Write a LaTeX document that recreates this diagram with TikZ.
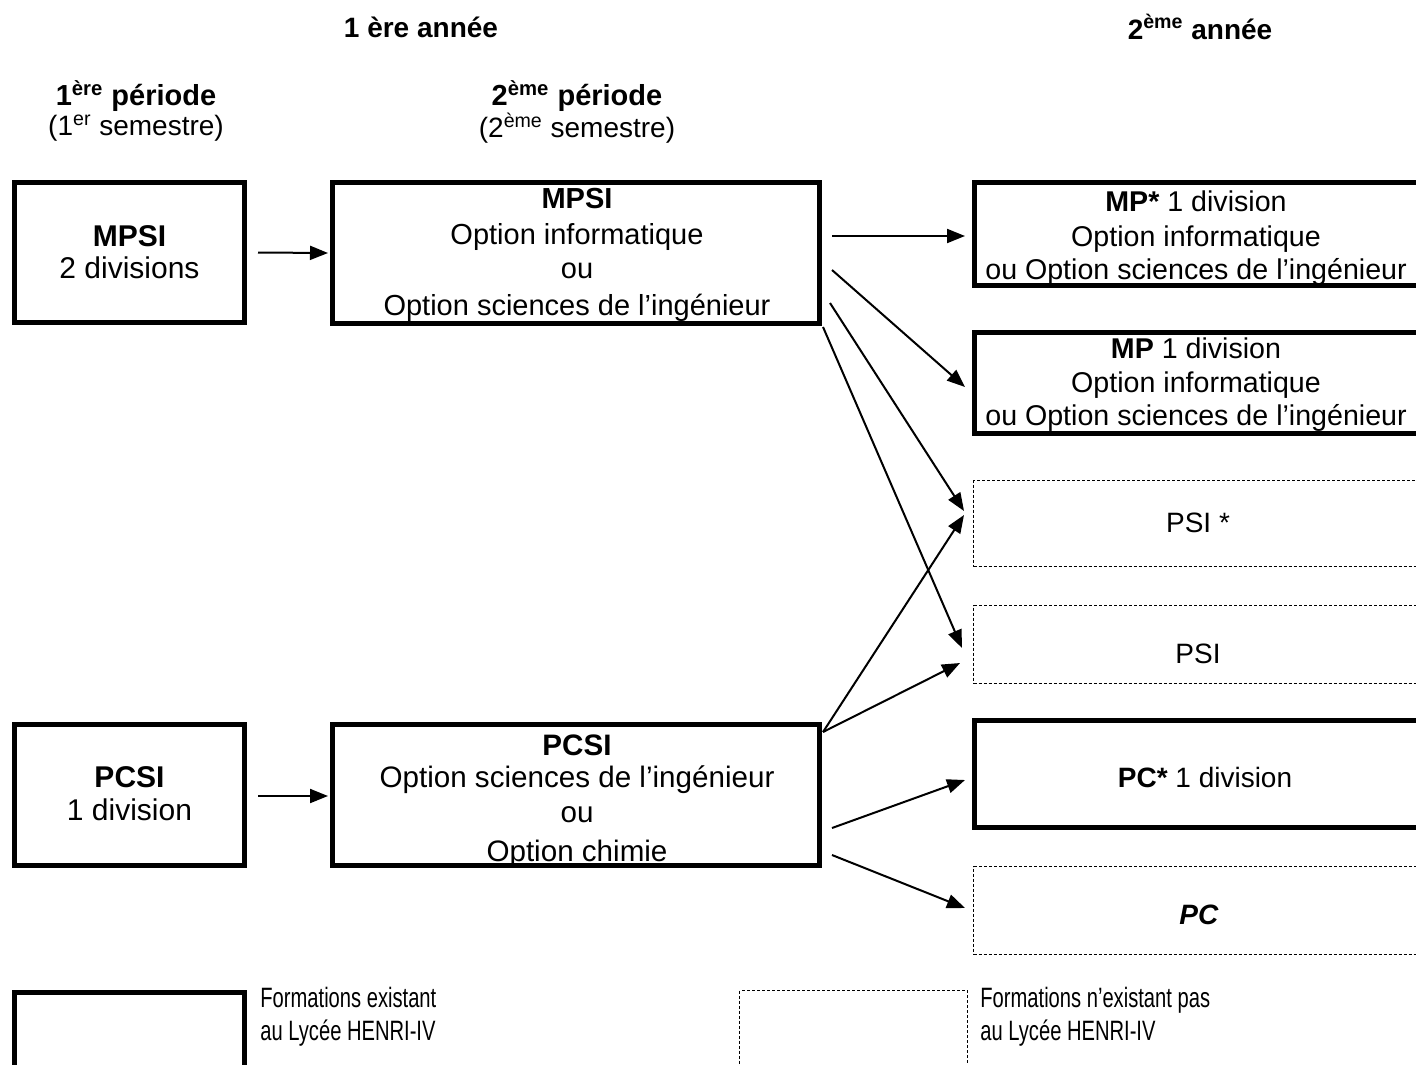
\documentclass[tikz,border=0pt]{standalone}
\usepackage{fontspec}
\usepackage{graphicx}
\setmainfont{Liberation Sans}
\usetikzlibrary{arrows.meta,calc}
\newcommand{\cnd}[1]{\scalebox{0.72}[1]{#1}}
\begin{document}
\begin{tikzpicture}[x=0.5pt,y=-0.5pt,
  thickbox/.style={draw, line width=2.5pt, inner sep=0pt, rectangle},
  dashbox/.style={draw, line width=0.5pt, dash pattern=on 1.5pt off 1pt, inner sep=0pt, rectangle},
  txt/.style={inner sep=0pt, align=center, font=\fontsize{14}{17}\selectfont},
  arr/.style={line width=1pt, -{Triangle[length=9pt,width=7pt]}}]
\useasboundingbox (0,0) rectangle (1416,1064);
\clip (0,0) rectangle (1416,1064);

% headers
\node[txt] (an1) at (421,27) {\textbf{1 ère année}};
\node[txt] (an2) at (1200,27) {\textbf{2\textsuperscript{ème} année}};
\node[txt, font=\fontsize{14.5}{17}\selectfont] (per1) at (136,96) {\textbf{1\textsuperscript{ère} période}};
\node[txt] (sem1) at (136,128) {(1\textsuperscript{er} semestre)};
\node[txt, font=\fontsize{14.5}{17}\selectfont] (per2) at (577,96) {\textbf{2\textsuperscript{ème} période}};
\node[txt] (sem2) at (577,128) {(2\textsuperscript{ème} semestre)};

% first-year boxes
\node[thickbox, minimum width=115pt, minimum height=70pt] (mpsiA) at (129.5,252.5) {};
\node[txt, font=\fontsize{15}{16}\selectfont] (mpsiAt) at (129.5,252) {\textbf{MPSI}\\2 divisions};
\node[thickbox, minimum width=243.5pt, minimum height=70.5pt] (mpsiB) at (576,253) {};
\node[txt, font=\fontsize{14.5}{17}\selectfont] (mpsiBt) at (577,255)
  {\textbf{MPSI}\\[1pt]Option informatique\\ou\\[1.5pt]Option sciences de l’ingénieur};

\node[thickbox, minimum width=115pt, minimum height=70.5pt] (pcsiA) at (129.5,795) {};
\node[txt, font=\fontsize{15}{16.5}\selectfont] (pcsiAt) at (129.5,793.5) {\textbf{PCSI}\\1 division};
\node[thickbox, minimum width=243.5pt, minimum height=70.5pt] (pcsiB) at (576,795) {};
\node[txt, font=\fontsize{14.8}{16}\selectfont] (pcsiBt) at (577,801)
  {\textbf{PCSI}\\Option sciences de l’ingénieur\\[1.5pt]ou\\[3.5pt]Option chimie};

% second-year boxes
\node[thickbox, minimum width=225.5pt, minimum height=51.5pt] (mpA) at (1200,234) {};
\node[txt, font=\fontsize{14.3}{16.5}\selectfont] (mpAt) at (1196,238)
  {\textbf{MP*} 1 division\\[1pt]Option informatique\\ou Option sciences de l’ingénieur};
\node[thickbox, minimum width=225.5pt, minimum height=50.5pt] (mpB) at (1200,383) {};
\node[txt, font=\fontsize{14.3}{16.5}\selectfont] (mpBt) at (1196,385)
  {\textbf{MP} 1 division\\[0.5pt]Option informatique\\ou Option sciences de l’ingénieur};
\node[dashbox, minimum width=227.5pt, minimum height=43pt] (psiA) at (1201,523.5) {};
\node[txt] (psiAt) at (1198,523) {PSI *};
\node[dashbox, minimum width=227.5pt, minimum height=39pt] (psiB) at (1201,644.5) {};
\node[txt] (psiBt) at (1198,654) {PSI};
\node[thickbox, minimum width=225.5pt, minimum height=53.5pt] (pcA) at (1200,774) {};
\node[txt] (pcAt) at (1205,777) {\textbf{PC*} 1 division};
\node[dashbox, minimum width=227.5pt, minimum height=44pt] (pcB) at (1201,910.5) {};
\node[txt] (pcBt) at (1199,915) {\textbf{\itshape PC}};

% legend
\node[thickbox, minimum width=115pt, minimum height=52.5pt] (legA) at (129.5,1045) {};
\node[txt, anchor=west, align=left, font=\fontsize{14}{16.5}\selectfont] (legAt) at (260,1017)
  {\cnd{Formations existant}\\\cnd{au Lycée HENRI-IV}};
\node[dashbox, minimum width=114pt, minimum height=54.5pt] (legB) at (853.5,1045) {};
\node[txt, anchor=west, align=left, font=\fontsize{14}{16.5}\selectfont] (legBt) at (980,1017)
  {\cnd{Formations n’existant pas}\\\cnd{au Lycée HENRI-IV}};

% connectors
\draw[arr] ($(mpsiA.east)+(11,0)$) -- ($(mpsiB.west)+(-2,0)$);
\draw[arr] ($(pcsiA.east)+(11,1)$) -- ($(pcsiB.west)+(-2,1)$);
\draw[arr] ($(mpsiB.east)+(10,-17)$) -- ($(mpA.west)+(-7,2)$);
\draw[arr] ($(mpsiB.east)+(10,17)$) -- ($(mpB.west)+(-7,4)$);
\draw[arr] ($(mpsiB.east)+(8,50)$) -- ($(psiA.west)+(-9,-12.5)$);
\draw[arr] ($(mpsiB.south east)+(1,1)$) -- ($(psiB.west)+(-11,3.5)$);
\draw[arr] ($(pcsiB.north east)+(1,10)$) -- ($(psiA.west)+(-9,-8.5)$);
\draw[arr] ($(pcsiB.north east)+(1,10)$) -- ($(psiB.west)+(-13,18.5)$);
\draw[arr] ($(pcsiB.east)+(10,33)$) -- ($(pcA.west)+(-7,6)$);
\draw[arr] ($(pcsiB.east)+(10,60)$) -- ($(pcB.west)+(-8,-2.5)$);
\end{tikzpicture}
\end{document}
